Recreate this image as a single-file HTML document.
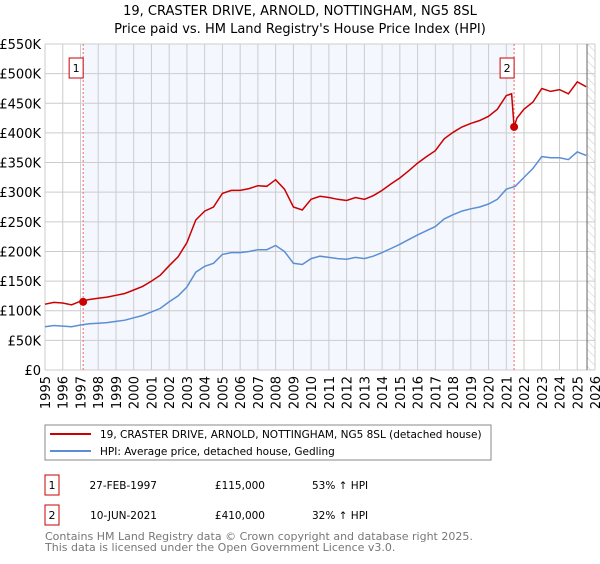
<!DOCTYPE html>
<html><head><meta charset="utf-8"><style>
body{margin:0;width:600px;height:560px;background:#fff;font-family:"DejaVu Sans","Liberation Sans",sans-serif;overflow:hidden}
svg text{font-family:"DejaVu Sans","Liberation Sans",sans-serif}
</style></head><body>
<svg id="c" width="600" height="560" viewBox="0 0 600 560">
<defs><pattern id="hatch" width="6" height="6" patternUnits="userSpaceOnUse" patternTransform="rotate(-45)"><line x1="0" y1="0" x2="0" y2="6" stroke="#ccc" stroke-width="1"/></pattern></defs>
<text x="300" y="15" text-anchor="middle" font-size="13">19, CRASTER DRIVE, ARNOLD, NOTTINGHAM, NG5 8SL</text>
<text x="300" y="33" text-anchor="middle" font-size="13">Price paid vs. HM Land Registry's House Price Index (HPI)</text>
<g id="plot"></g>
<rect x="45" y="425" width="446" height="35" fill="#fff" stroke="#888"/>
<line x1="50" y1="434" x2="91" y2="434" stroke="#cc0000" stroke-width="2"/>
<text x="100" y="438" font-size="10.5">19, CRASTER DRIVE, ARNOLD, NOTTINGHAM, NG5 8SL (detached house)</text>
<line x1="50" y1="451" x2="91" y2="451" stroke="#5b8fd4" stroke-width="2"/>
<text x="100" y="455" font-size="10.5">HPI: Average price, detached house, Gedling</text>
<rect x="45" y="475" width="14" height="20" fill="#fff" stroke="#cc0000"/>
<text x="52" y="489" text-anchor="middle" font-size="11">1</text>
<text x="157" y="489" text-anchor="end" font-size="10.5">27-FEB-1997</text>
<text x="265" y="489" text-anchor="end" font-size="10.5">£115,000</text>
<text x="312" y="489" font-size="10.5">53% ↑ HPI</text>
<rect x="45" y="505" width="14" height="20" fill="#fff" stroke="#cc0000"/>
<text x="52" y="519" text-anchor="middle" font-size="11">2</text>
<text x="157" y="519" text-anchor="end" font-size="10.5">10-JUN-2021</text>
<text x="265" y="519" text-anchor="end" font-size="10.5">£410,000</text>
<text x="312" y="519" font-size="10.5">32% ↑ HPI</text>
<text x="45" y="540" font-size="11" fill="#777">Contains HM Land Registry data © Crown copyright and database right 2025.</text>
<text x="45" y="551" font-size="11" fill="#777">This data is licensed under the Open Government Licence v3.0.</text>
</svg>
<script>
const hpiYears=[1995,1995.5,1996,1996.5,1997,1997.5,1998,1998.5,1999,1999.5,2000,2000.5,2001,2001.5,2002,2002.5,2003,2003.5,2004,2004.5,2005,2005.5,2006,2006.5,2007,2007.5,2008,2008.5,2009,2009.5,2010,2010.5,2011,2011.5,2012,2012.5,2013,2013.5,2014,2014.5,2015,2015.5,2016,2016.5,2017,2017.5,2018,2018.5,2019,2019.5,2020,2020.5,2021,2021.5,2022,2022.5,2023,2023.5,2024,2024.5,2025,2025.5];
const hpiValues=[73,75,74,73,76,78,79,80,82,84,88,92,98,104,115,125,140,165,175,180,195,198,198,200,203,203,210,200,180,178,188,192,190,188,187,190,188,192,198,205,212,220,228,235,242,255,262,268,272,275,280,288,305,310,325,340,360,358,358,355,368,362];
const priceYears=[1995,1995.5,1996,1996.5,1997,1997.5,1998,1998.5,1999,1999.5,2000,2000.5,2001,2001.5,2002,2002.5,2003,2003.5,2004,2004.5,2005,2005.5,2006,2006.5,2007,2007.5,2008,2008.5,2009,2009.5,2010,2010.5,2011,2011.5,2012,2012.5,2013,2013.5,2014,2014.5,2015,2015.5,2016,2016.5,2017,2017.5,2018,2018.5,2019,2019.5,2020,2020.5,2021,2021.3,2021.44,2021.6,2022,2022.5,2023,2023.5,2024,2024.5,2025,2025.5];
const priceValues=[111,114,113,110,116,119,121,123,126,129,135,141,150,160,176,191,215,253,268,275,298,303,303,306,311,310,321,305,275,270,288,293,291,288,286,291,288,294,303,314,324,336,349,360,370,390,401,410,416,421,428,440,463,466,410,425,440,452,475,470,473,466,486,478];
const saleYears=[1997.15,2021.44];
const saleValues=[115,410];
const saleLabels=["1","2"];
const yTicks=[0,50,100,150,200,250,300,350,400,450,500,550];
const yTickLabels=["£0","£50K","£100K","£150K","£200K","£250K","£300K","£350K","£400K","£450K","£500K","£550K"];
const xTicks=[1995,1996,1997,1998,1999,2000,2001,2002,2003,2004,2005,2006,2007,2008,2009,2010,2011,2012,2013,2014,2015,2016,2017,2018,2019,2020,2021,2022,2023,2024,2025,2026];
const dataEnd=2025.55;

const L=45,R=595,T=44,B=370;
const X=y=>L+(y-1995)/(2026-1995)*(R-L);
const Y=v=>B-v/550*(B-T);
const g=document.getElementById('plot');
const NS='http://www.w3.org/2000/svg';
function mk(t,a){const e=document.createElementNS(NS,t);for(const k in a)e.setAttribute(k,a[k]);g.appendChild(e);return e;}
let e;
e=mk('rect',{x:X(saleYears[0]),y:T,width:X(saleYears[1])-X(saleYears[0]),height:B-T,fill:'#f4f7fe'});


e=mk('rect',{x:X(dataEnd),y:T,width:R-X(dataEnd),height:B-T,fill:'url(#hatch)'});


yTicks.forEach((v,i)=>{
  e=mk('line',{x1:L,x2:R,y1:Y(v),y2:Y(v),stroke:'#ccc'});
  
  
  e=mk('text',{x:L-4,y:Y(v)+5,'text-anchor':'end','font-size':13});
  e.textContent=yTickLabels[i];
  
  
});
xTicks.forEach(v=>{
  e=mk('line',{x1:X(v),x2:X(v),y1:T,y2:B,stroke:'#ccc'});
  
  
  e=mk('text',{x:0,y:0,'text-anchor':'end','font-size':13,transform:`translate(${X(v)+5},${B+6}) rotate(-90)`});
  e.textContent=v;
  
  
});
e=mk('line',{x1:X(dataEnd),x2:X(dataEnd),y1:T,y2:B,stroke:'#666'});


saleYears.forEach((s,i)=>{
  e=mk('line',{x1:X(s),x2:X(s),y1:T,y2:B,stroke:'#e66','stroke-dasharray':'2,2'});
  
  
  e=mk('rect',{x:X(s)-14,y:58,width:14,height:20,fill:'#fff',stroke:'#cc0000'});
  
  
  e=mk('text',{x:X(s)-7,y:72,'text-anchor':'middle','font-size':11});
  e.textContent=saleLabels[i];
  
  
});
const path=(xs,vs)=>xs.map((x,i)=>(i?'L':'M')+X(x).toFixed(1)+','+Y(vs[i]).toFixed(1)).join('');
e=mk('path',{d:path(hpiYears,hpiValues),fill:'none',stroke:'#5b8fd4','stroke-width':1.5});


e=mk('path',{d:path(priceYears,priceValues),fill:'none',stroke:'#cc0000','stroke-width':1.5});


saleYears.forEach((s,i)=>{
  e=mk('circle',{cx:X(s),cy:Y(saleValues[i]),r:4,fill:'#cc0000'});
  
  
});
</script>
</body></html>
